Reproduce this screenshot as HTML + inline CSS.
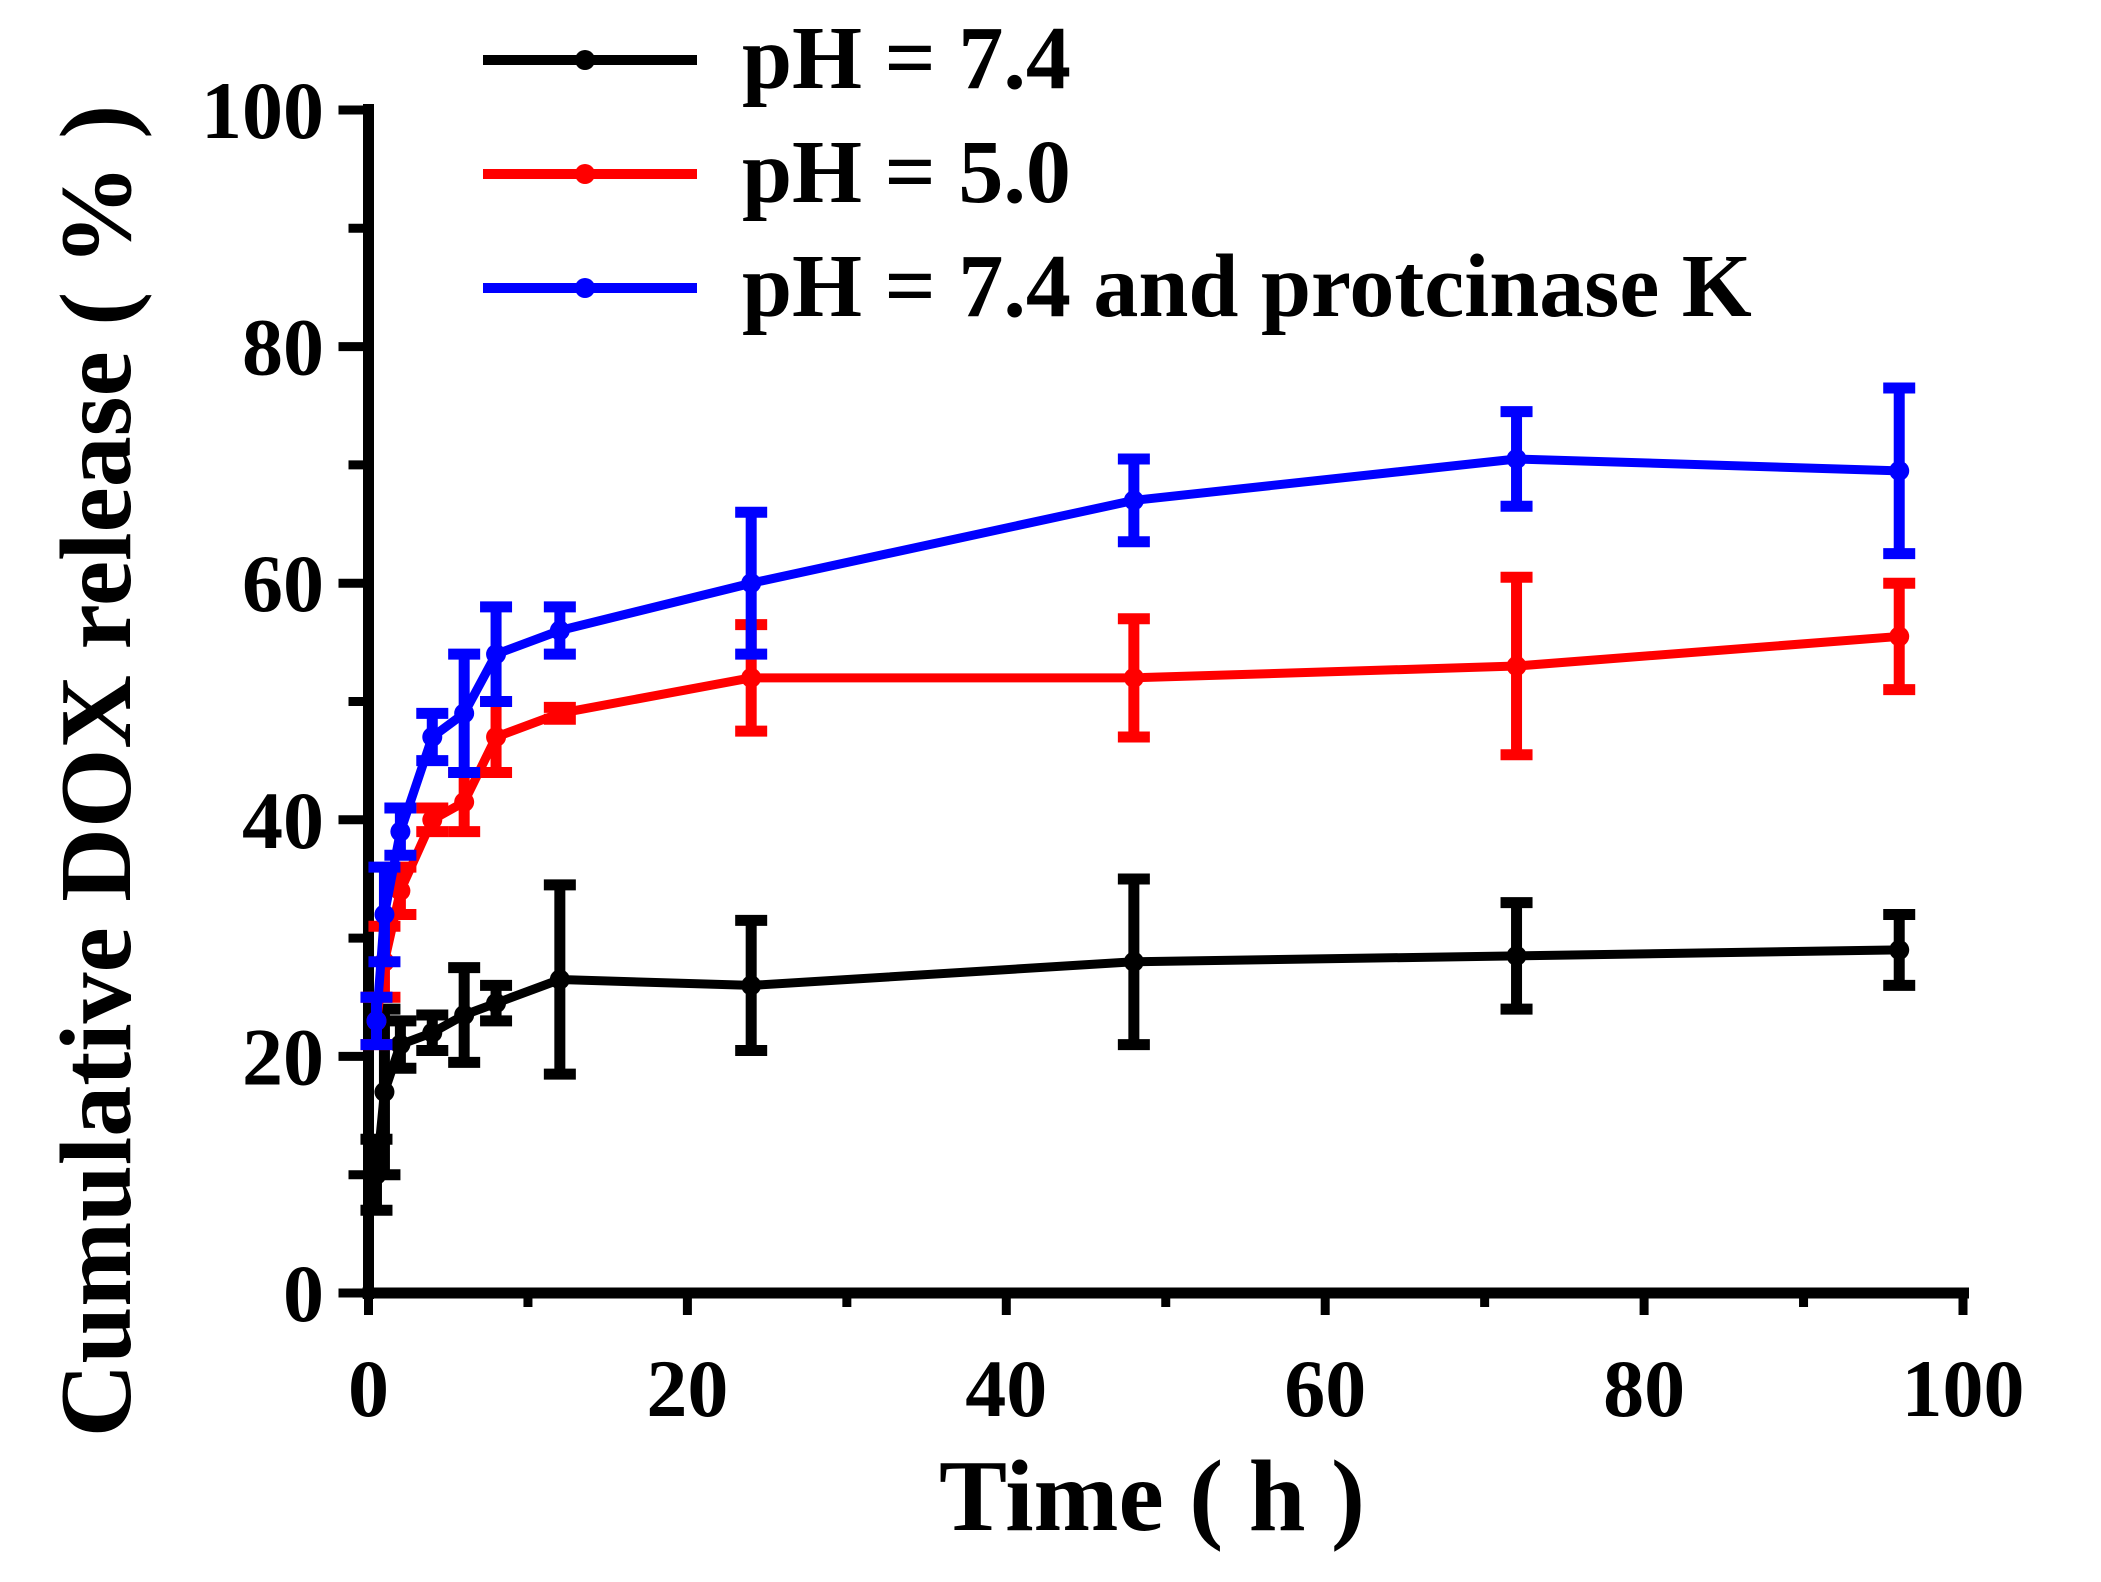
<!DOCTYPE html>
<html><head><meta charset="utf-8"><style>
html,body{margin:0;padding:0;background:#fff}
svg{display:block}
text{font-family:"Liberation Serif",serif;font-weight:bold;fill:#000}
</style></head><body>
<svg id="chart" width="2101" height="1582" viewBox="0 0 2101 1582" xmlns="http://www.w3.org/2000/svg">
<g id="axes"></g>
<g id="series"></g>
<g id="legend"></g>
<text transform="translate(130,771) rotate(-90)" text-anchor="middle" font-size="102">Cumulative DOX release ( % )</text>
<text x="1152" y="1530" text-anchor="middle" font-size="102">Time  ( h )</text>
</svg>
<script>
const times = [0.5,1,2,4,6,8,12,24,48,72,96];
const ph74 = [10,17,21,22,23.5,24.5,26.5,26,28,28.5,29];
const ph74Err = [3,7,2,1.5,4,1.5,8,5.5,7,4.5,3];
const ph50 = [23,28,34,40,41.5,47,49,52,52,53,55.5];
const ph50Err = [2,3,2,1,2.5,3,0.5,4.5,5,7.5,4.5];
const phK = [23,32,39,47,49,54,56,60,67,70.5,69.5];
const phKErr = [2,4,2,2,5,4,2,6,3.5,4,7];
const xTicks = [0,20,40,60,80,100];
const yTicks = [0,20,40,60,80,100];
const legendLabels = ["pH = 7.4","pH = 5.0","pH = 7.4 and protcinase K"];

const NS="http://www.w3.org/2000/svg";
const X=v=>368.5+(1963-368.5)*v/100;
const Y=v=>1293-(1293-110)*v/100;
function mk(tag,attrs,parent){const e=document.createElementNS(NS,tag);for(const k in attrs)e.setAttribute(k,attrs[k]);parent.appendChild(e);return e;}
const axes=document.getElementById('axes');
let e;
e=mk('line',{x1:X(0),y1:Y(0)+6,x2:X(0),y2:Y(100)-6,stroke:'#000','stroke-width':11},axes);


e=mk('line',{x1:X(0)-6,y1:Y(0),x2:X(100)+6,y2:Y(0),stroke:'#000','stroke-width':11},axes);


for(let v=0;v<=100;v+=10){
  const major=v%20===0;
  e=mk('line',{x1:X(0),y1:Y(v),x2:X(0)-(major?30:20),y2:Y(v),stroke:'#000','stroke-width':9},axes);
  
  
  e=mk('line',{x1:X(v),y1:Y(0),x2:X(v),y2:Y(0)+(major?22:14),stroke:'#000','stroke-width':9},axes);
  
  
}
yTicks.forEach(v=>{
  e=mk('text',{x:324,y:Y(v)+28,'text-anchor':'end','font-size':82},axes);
  e.textContent=v;
  
  
});
xTicks.forEach(v=>{
  e=mk('text',{x:X(v),y:1416,'text-anchor':'middle','font-size':82},axes);
  e.textContent=v;
  
  
});
const ser=document.getElementById('series');
function drawSeries(vals,errs,color,name){
  const g=mk('g',{},ser);
  
  
  const pts=times.map((t,i)=>X(t)+','+Y(vals[i])).join(' ');
  e=mk('polyline',{points:pts,fill:'none',stroke:color,'stroke-width':9,'stroke-linejoin':'round'},g);
  
  
  times.forEach((t,i)=>{
    const x=X(t),y1=Y(vals[i]+errs[i]),y2=Y(vals[i]-errs[i]);
    e=mk('path',{d:`M${x},${y1}V${y2}M${x-16},${y1}H${x+16}M${x-16},${y2}H${x+16}`,stroke:color,'stroke-width':11,fill:'none'},g);
    
    
    e=mk('circle',{cx:x,cy:Y(vals[i]),r:10,fill:color},g);
    
    
  });
}
drawSeries(ph74,ph74Err,'#000','series-ph74');
drawSeries(ph50,ph50Err,'#f00','series-ph50');
drawSeries(phK,phKErr,'#00f','series-ph74-proteinase');
const leg=document.getElementById('legend');
const colors=['#000','#f00','#00f'];
legendLabels.forEach((lab,i)=>{
  const y=60+i*114;
  e=mk('line',{x1:483,y1:y,x2:697,y2:y,stroke:colors[i],'stroke-width':10},leg);
  
  
  e=mk('circle',{cx:585,cy:y,r:10,fill:colors[i]},leg);
  
  
  e=mk('text',{x:742,y:y+28,'font-size':90},leg);
  e.textContent=lab;
  
  
});
</script>
</body></html>
